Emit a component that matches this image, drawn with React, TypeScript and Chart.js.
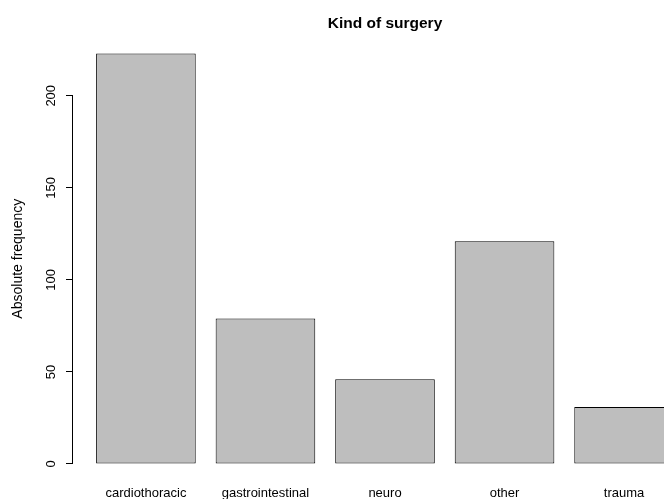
import React, { useEffect, useRef } from "react";
import { Chart, registerables } from "chart.js";

Chart.register(...registerables);

const categories = ["cardiothoracic", "gastrointestinal", "neuro", "other", "trauma"];
const frequencies = [223, 79, 46, 121, 31];
const yTickValues = [0, 50, 100, 150, 200];
const chartTitle = "Kind of surgery";
const yAxisTitle = "Absolute frequency";

// R barplot geometry (bar width 1, space 0.2, 4% axis extension)
const BAR_W = 1;
const SPACE = 0.2;
const centers = categories.map((_, i) => SPACE + i * (BAR_W + SPACE) + BAR_W / 2);
const xLo = SPACE;
const xHi = SPACE + categories.length * (BAR_W + SPACE) - SPACE;
const xExt = (xHi - xLo) * 0.04;
const yHiRaw = Math.max(...frequencies);
const yExt = yHiRaw * 0.04;

const FONT = "'Liberation Sans', Arial, Helvetica, sans-serif";

const align = (p: number) => Math.round(p - 0.5) + 0.5;

export default function App() {
  const ref = useRef<HTMLCanvasElement>(null);

  useEffect(() => {
    if (!ref.current) return;
    const axisLine = {
      id: "rAxisLine",
      afterDraw(chart: any) {
        const ys = chart.scales.y;
        const x = chart.chartArea.left - 0.5;
        const ctx = chart.ctx;
        ctx.save();
        ctx.strokeStyle = "#000";
        ctx.lineWidth = 1;
        ctx.beginPath();
        ctx.moveTo(x, align(ys.getPixelForValue(yTickValues[0])));
        ctx.lineTo(x, align(ys.getPixelForValue(yTickValues[yTickValues.length - 1])));
        ctx.stroke();
        ctx.restore();
      },
    };

    const chart = new Chart(ref.current, {
      type: "bar",
      data: {
        datasets: [
          {
            data: frequencies.map((v, i) => ({ x: centers[i], y: v })),
            backgroundColor: "#BEBEBE",
            borderColor: "#000",
            borderWidth: 1,
            borderSkipped: false,
            categoryPercentage: 1,
            barPercentage: BAR_W / (BAR_W + SPACE),
          },
        ],
      },
      options: {
        responsive: false,
        animation: false,
        layout: { padding: { left: 0, right: 3, top: 0, bottom: 0 } },
        plugins: {
          legend: { display: false },
          tooltip: { enabled: false },
          title: {
            display: true,
            text: chartTitle,
            fullSize: false,
            color: "#000",
            font: { family: FONT, size: 15.5, weight: "bold", lineHeight: 1.2 },
            padding: { top: 14.5, bottom: 3.9 },
          },
        },
        scales: {
          x: {
            type: "linear",
            offset: false,
            min: xLo - xExt,
            max: xHi + xExt,
            grid: { display: false, drawTicks: false },
            border: { display: false },
            afterBuildTicks: (scale: any) => {
              scale.ticks = centers.map((c) => ({ value: c }));
            },
            afterFit: (scale: any) => {
              scale.height = 18.6;
            },
            ticks: {
              autoSkip: false,
              maxRotation: 0,
              minRotation: 0,
              padding: 5,
              color: "#000",
              font: { family: FONT, size: 13 },
              callback: (_v: any, i: number) => categories[i],
            },
          },
          y: {
            type: "linear",
            min: -yExt,
            max: yHiRaw + yExt,
            grid: {
              drawOnChartArea: false,
              drawTicks: true,
              tickLength: 7,
              color: "#000",
              lineWidth: 1,
            },
            border: { display: false },
            afterBuildTicks: (scale: any) => {
              scale.ticks = yTickValues.map((v) => ({ value: v }));
            },
            afterFit: (scale: any) => {
              scale.width = 73;
            },
            ticks: {
              minRotation: 90,
              maxRotation: 90,
              crossAlign: "center",
              padding: 4,
              color: "#000",
              font: { family: FONT, size: 13 },
              callback: (v: any) => String(v),
            },
            title: {
              display: true,
              text: yAxisTitle,
              color: "#000",
              font: { family: FONT, size: 14, lineHeight: 1.2 },
              padding: { top: 10, bottom: 0 },
            },
          },
        },
      },
      plugins: [axisLine],
    });
    return () => chart.destroy();
  }, []);

  return (
    <div
      style={{
        position: "fixed",
        left: 0,
        top: 0,
        width: 664,
        height: 499,
        overflow: "hidden",
        background: "#fff",
      }}
    >
      <canvas ref={ref} width={700} height={499} style={{ display: "block" }} />
    </div>
  );
}
